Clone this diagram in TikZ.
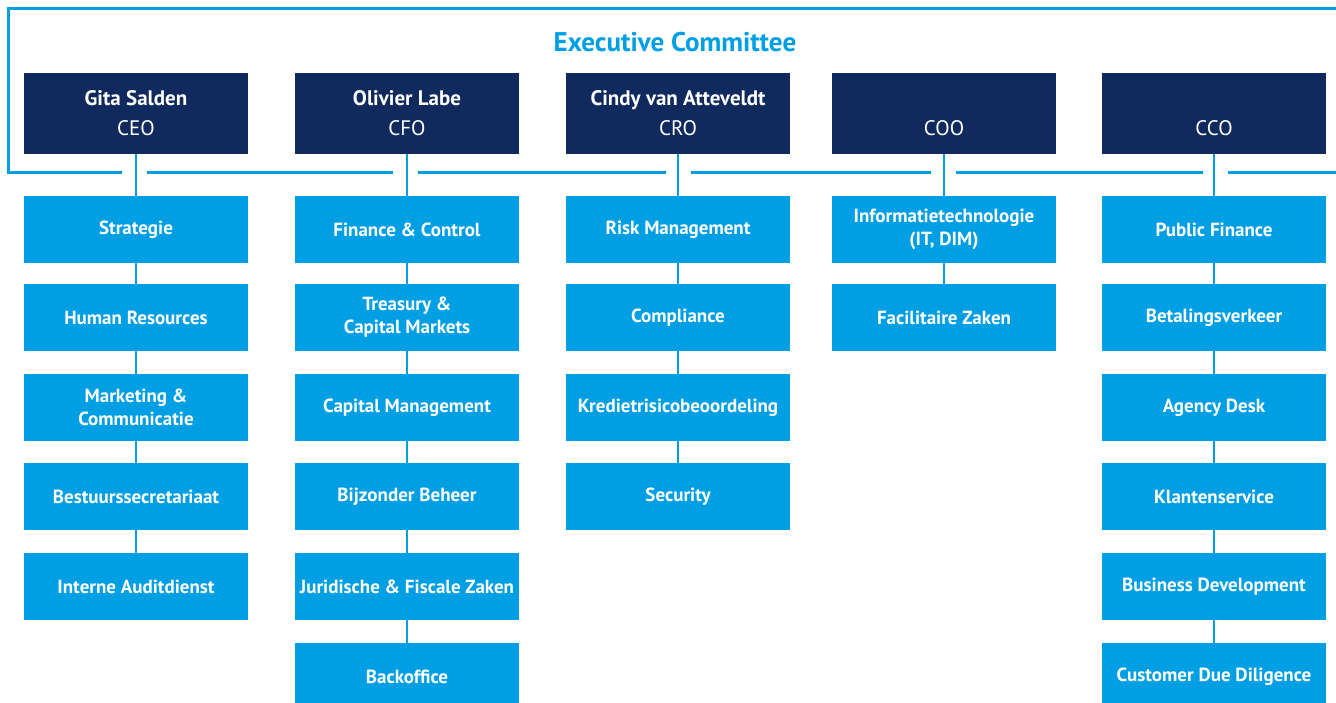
\documentclass[tikz,border=0pt]{standalone}
\usepackage{fontspec}
\setmainfont{PT Sans}
\usetikzlibrary{positioning}
\definecolor{bngnavy}{HTML}{102A5E}
\definecolor{bngblue}{HTML}{009FE3}

\begin{document}
\begin{tikzpicture}[x=1pt,y=-1pt,
  board/.style={fill=bngnavy,text=white,minimum width=224pt,minimum height=81pt,
    inner sep=0pt,align=center,font=\fontsize{21}{30}\selectfont},
  unit/.style={fill=bngblue,text=white,minimum width=224pt,minimum height=67pt,
    inner sep=0pt,align=center,font=\fontsize{19}{23}\selectfont\bfseries},
  link/.style={draw=bngblue,line width=2.4pt},
  frame/.style={draw=bngblue,line width=3pt}]
  \clip (0,0) rectangle (1336,703);
  % frame round the committee
  \draw[frame] (1340,9) -- (8,9) -- (8,173) -- (122,173);
  \foreach \xa/\xb in {147/393,418/666,691/931,956/1203,1228/1340}
    \draw[frame] (\xa,173) -- (\xb,173);
  \node[text=bngblue,font=\fontsize{27}{30}\selectfont\bfseries] (title) at (675,42) {Executive Committee};
  % board members
  \node[board] (ceo) at (136,113.5) {\textbf{Gita Salden}\\CEO};
  \node[board] (cfo) at (407,113.5) {\textbf{Olivier Labe}\\CFO};
  \node[board] (cro) at (678,113.5) {\textbf{Cindy van Atteveldt}\\CRO};
  \node[board] (coo) at (944,113.5) {\vphantom{\textbf{Gg}}\\COO};
  \node[board] (cco) at (1214,113.5) {\vphantom{\textbf{Gg}}\\CCO};
  % CEO
  \node[unit] (strat) at (136,229.5) {Strategie};
  \node[unit] (hr) at (136,317.5) {Human Resources};
  \node[unit] (mark) at (136,407.5) {Marketing \&\\Communicatie};
  \node[unit] (secr) at (136,496.5) {Bestuurssecretariaat};
  \node[unit] (audit) at (136,586.5) {Interne Auditdienst};
  % CFO
  \node[unit] (fin) at (407,229.5) {Finance \& Control};
  \node[unit] (treas) at (407,317.5) {Treasury \&\\Capital Markets};
  \node[unit] (capm) at (407,407.5) {Capital Management};
  \node[unit] (bijz) at (407,496.5) {Bijzonder Beheer};
  \node[unit] (jur) at (407,586.5) {Juridische \& Fiscale Zaken};
  \node[unit] (back) at (407,676.5) {Backoffice};
  % CRO
  \node[unit] (risk) at (678,229.5) {Risk Management};
  \node[unit] (comp) at (678,317.5) {Compliance};
  \node[unit] (kred) at (678,407.5) {Kredietrisicobeoordeling};
  \node[unit] (sec) at (678,496.5) {Security};
  % COO
  \node[unit] (it) at (944,229.5) {Informatietechnologie\\(IT, DIM)};
  \node[unit] (fac) at (944,317.5) {Facilitaire Zaken};
  % CCO
  \node[unit] (pf) at (1214,229.5) {Public Finance};
  \node[unit] (bet) at (1214,317.5) {Betalingsverkeer};
  \node[unit] (agency) at (1214,407.5) {Agency Desk};
  \node[unit] (klant) at (1214,496.5) {Klantenservice};
  \node[unit] (busdev) at (1214,586.5) {Business Development};
  \node[unit] (cdd) at (1214,676.5) {Customer Due Diligence};
  % connectors
  \foreach \a/\b in {ceo/strat,strat/hr,hr/mark,mark/secr,secr/audit,
      cfo/fin,fin/treas,treas/capm,capm/bijz,bijz/jur,jur/back,
      cro/risk,risk/comp,comp/kred,kred/sec,
      coo/it,it/fac,
      cco/pf,pf/bet,bet/agency,agency/klant,klant/busdev,busdev/cdd}
    \draw[link] (\a) -- (\b);
\end{tikzpicture}
\end{document}
